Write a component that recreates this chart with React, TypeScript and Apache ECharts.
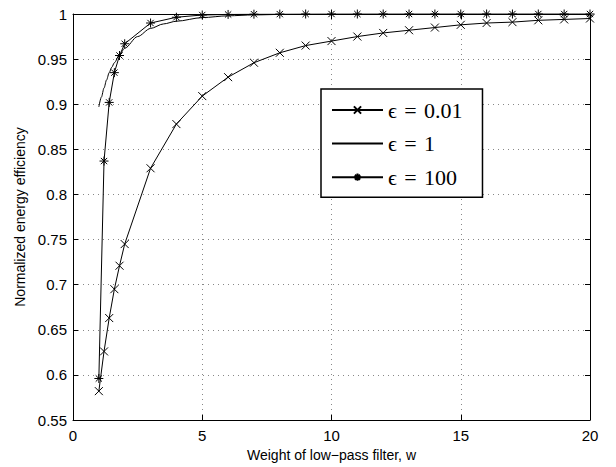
import React, { useEffect, useRef } from "react";
import * as echarts from "echarts";

const wMarked = [1, 1.2, 1.4, 1.6, 1.8, 2, 3, 4, 5, 6, 7, 8, 9, 10, 11, 12, 13, 14, 15, 16, 17, 18, 19, 20];
const effEps001 = [0.582, 0.626, 0.663, 0.695, 0.721, 0.745, 0.829, 0.878, 0.909, 0.930, 0.946, 0.957, 0.965, 0.970, 0.975, 0.979, 0.982, 0.985, 0.988, 0.990, 0.991, 0.993, 0.994, 0.995];
const effEps100 = [0.596, 0.837, 0.902, 0.935, 0.954, 0.967, 0.990, 0.9964, 0.9989, 0.9995, 0.9998, 0.9999, 1.0, 1.0, 1.0, 1.0, 1.0, 1.0, 1.0, 1.0, 1.0, 1.0, 1.0, 1.0];
const wFine = [1, 1.1, 1.2, 1.3, 1.4, 1.5, 1.6, 1.8, 2, 2.5, 3, 3.5, 4, 5, 6, 7, 8, 10, 12, 15, 20];
const effEps1 = [0.897, 0.908, 0.918, 0.927, 0.935, 0.941, 0.946, 0.955, 0.962, 0.975, 0.984, 0.989, 0.992, 0.996, 0.998, 0.999, 0.9995, 0.9998, 0.9999, 1.0, 1.0];
const seriesNames = ["\u03f5\u2004=\u20040.01", "\u03f5\u2004=\u20041", "\u03f5\u2004=\u2004100"];
const xTicks = { min: 0, max: 20, interval: 5 };
const yTicks = { min: 0.55, max: 1, interval: 0.05 };

const X_MARK = "path://M0,0L10,10M10,0L0,10";
const STAR_MARK = "path://M5,0L5,10M0,5L10,5M1.5,1.5L8.5,8.5M8.5,1.5L1.5,8.5";

export default function App() {
  const ref = useRef<HTMLDivElement>(null);
  useEffect(() => {
    if (!ref.current) return;
    const chart = echarts.init(ref.current, null, { renderer: "svg" });
    const labelFont = { color: "#000", fontFamily: "Liberation Sans, Arial, sans-serif", fontSize: 15 };
    const axisCommon = {
      axisLine: { show: true, onZero: false, lineStyle: { color: "#000", width: 1 } },
      axisTick: { show: true, inside: true, length: 5, lineStyle: { color: "#000" } },
      minorTick: { show: false },
    };
    const mk = (ws: number[], vs: number[]) => ws.map((w, i) => [w, vs[i]]);
    chart.setOption({
      animation: false,
      backgroundColor: "#fff",
      grid: { left: 73, right: 26, top: 14, bottom: 43, containLabel: false },
      legend: {
        orient: "vertical",
        left: 321,
        top: 89,
        data: [
          { name: seriesNames[0] },
          { name: seriesNames[1], itemStyle: { color: "rgba(0,0,0,0)", borderWidth: 0, opacity: 0 } },
          { name: seriesNames[2] },
        ],
        backgroundColor: "#fff",
        borderColor: "#000",
        borderWidth: 1.5,
        borderRadius: 0,
        padding: [10, 20, 9, 10],
        itemWidth: 51,
        itemHeight: 9,
        itemGap: 11.6,
        textStyle: {
          color: "#000",
          fontFamily: "Liberation Serif, DejaVu Serif, serif",
          fontSize: 22,
          lineHeight: 22,
        },
      },
      xAxis: [
        {
          type: "value",
          ...xTicks,
          position: "bottom",
          ...axisCommon,
          axisLabel: { ...labelFont, margin: 8 },
          splitLine: { show: true, lineStyle: { color: "#888", type: [1, 4], width: 1 } },
          name: "Weight of low\u2212pass filter, w",
          nameLocation: "middle",
          nameGap: 28,
          nameTextStyle: { ...labelFont, fontSize: 14 },
        },
        {
          type: "value",
          ...xTicks,
          position: "top",
          ...axisCommon,
          axisLabel: { show: false },
          splitLine: { show: false },
        },
      ],
      yAxis: [
        {
          type: "value",
          ...yTicks,
          position: "left",
          ...axisCommon,
          axisLabel: { ...labelFont, margin: 6, formatter: (v: number) => String(Math.round(v * 100) / 100) },
          splitLine: { show: true, lineStyle: { color: "#888", type: [1, 4], width: 1 } },
          name: "Normalized energy efficiency",
          nameLocation: "middle",
          nameGap: 46,
          nameTextStyle: { ...labelFont, fontSize: 14 },
        },
        {
          type: "value",
          ...yTicks,
          position: "right",
          ...axisCommon,
          axisLabel: { show: false },
          splitLine: { show: false },
        },
      ],
      series: [
        {
          name: seriesNames[0],
          type: "line",
          data: mk(wMarked, effEps001),
          symbol: X_MARK,
          symbolSize: 8,
          showAllSymbol: true,
          lineStyle: { color: "#000", width: 1 },
          itemStyle: { color: "#000", borderColor: "#000", borderWidth: 1 },
          z: 3,
        },
        {
          name: seriesNames[1],
          type: "line",
          data: mk(wFine, effEps1),
          symbol: "none",
          smooth: 0.3,
          smoothMonotone: "x",
          lineStyle: { color: "#000", width: 1 },
          itemStyle: { color: "#000" },
          z: 3,
        },
        {
          name: seriesNames[2],
          type: "line",
          data: mk(wMarked, effEps100),
          symbol: STAR_MARK,
          symbolSize: 9,
          showAllSymbol: true,
          lineStyle: { color: "#000", width: 1 },
          itemStyle: { color: "#000", borderColor: "#000", borderWidth: 1 },
          z: 3,
        },
      ],
    });
    return () => chart.dispose();
  }, []);
  return <div ref={ref} style={{ width: 616, height: 467, position: "absolute", left: 0, top: 0 }} />;
}
